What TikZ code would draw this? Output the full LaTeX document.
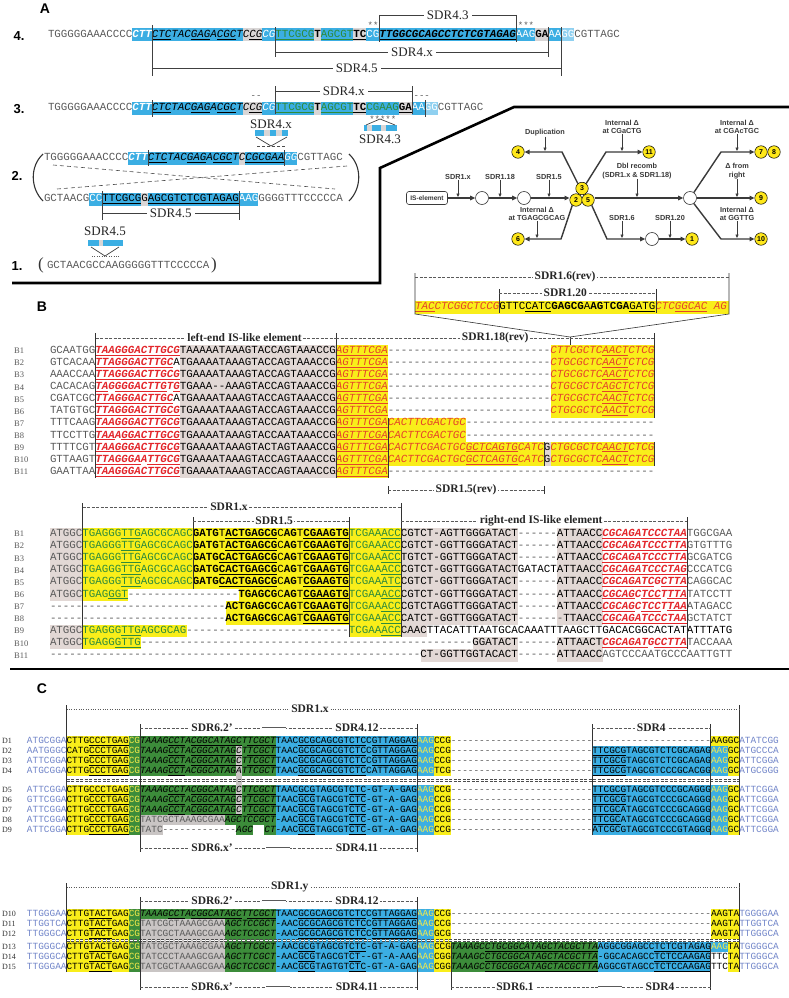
\documentclass[tikz,border=0pt]{standalone}
\usepackage{fontspec}
\setmainfont{Liberation Serif}
\setsansfont{Liberation Sans}
\setmonofont{Liberation Mono}
\usepackage{tikz}
\usetikzlibrary{positioning,calc,arrows.meta}
\definecolor{sqblue}{HTML}{3BAEE3}
\definecolor{sqlblue}{HTML}{8FD0F0}
\definecolor{sqgrey}{HTML}{D9D6D6}
\definecolor{sqyel}{HTML}{F9EE1A}
\definecolor{sqpink}{HTML}{E2D8D5}
\definecolor{sqdg}{HTML}{3C8C3A}
\definecolor{sqlg}{HTML}{C9C5C4}
\definecolor{txgreen}{HTML}{2E8B3A}
\definecolor{txred}{HTML}{E3262B}
\definecolor{txorg}{HTML}{E5442A}
\definecolor{txgrey}{HTML}{5A5A5A}
\definecolor{txflank}{HTML}{7185C9}
\definecolor{txyel}{HTML}{F4E94A}
\definecolor{flowc}{HTML}{3A3A3A}
\definecolor{ycirc}{HTML}{FFE81A}
\newcommand{\sqf}{\ttfamily\fontsize{10.83}{12}\selectfont}
\newcount\dshn
\newcommand{\dsh}[1]{\dshn=#1\relax\loop\ifnum\dshn>0 -{}\advance\dshn by -1 \repeat}
\newcommand{\un}[1]{\underline{#1}}
% sequence rows: start point, then segments chained to the right
\newcommand{\sqat}[2]{\node[sq] (cur) at (#1,#2) {};}
\newcommand{\sqs}[2]{\node[sq,#1] (cur) at (cur.east) {#2};}
\newcommand{\urow}[3]{\node[rowlab] (u#1) at (14,#2) {#1}; \sqat{50}{#2} #3}
\newcommand{\lrow}[3]{\node[rowlab] (w#1) at (14,#2) {#1}; \sqat{50}{#2} #3}
\newcommand{\drow}[3]{\node[rowlabc] (#1) at (2,#2) {#1}; \sqat{27}{#2} #3}
% column blocks (B: 6.5 per base from x=50, C: 5.65 per base from x=27)
\newcommand{\bk}[5]{\fill[#5] ({50+6.5*#1},#3) rectangle ({50+6.5*#2},#4);}
\newcommand{\cb}[5]{\fill[#5] ({27+5.65*#1},#3) rectangle ({27+5.65*#2},#4);}
\newcommand{\agt}{\sqs{co,fi}{\un{AGTTTCGA}}}
\newcommand{\mida}{\sqs{ck,fb}{GATG}\sqs{ck}{T}\sqs{ck,fb}{\un{ACTGAGCG}}\sqs{ck}{C}\sqs{ck,fb}{AG}\sqs{ck}{T}\sqs{ck,fb}{\un{CGAAGTG}}}
\newcommand{\midb}{\sqs{ck,fb}{GATG\un{CACTGAGCG}}\sqs{ck}{C}\sqs{ck,fb}{AG}\sqs{ck}{T}\sqs{ck,fb}{\un{CGAAGTG}}}
\newcommand{\midt}{\sqs{ck}{C}\sqs{ck,fb}{AG}\sqs{ck}{T}\sqs{ck,fb}{\un{CGAAGTG}}}
\newcommand{\dleft}[5]{\sqs{cb}{#1}\sqs{ck}{#2}\sqs{cy}{CG}\sqs{ck,fi}{#3}\sqs{ck}{#4}\sqs{cy}{AAG}\sqs{ck}{#5}}
\newcommand{\dright}[3]{\sqs{cp}{\dsh{25}}\sqs{ck}{#1}\sqs{cy}{#2}\sqs{ck}{GC}\sqs{cb}{#3}}
\newcommand{\gstd}{TAAAG\un{CCT}A\un{CGGCATAGC}T\un{TCGCT}}
\tikzset{
  sq/.style={font=\sqf, anchor=west, inner xsep=0pt, inner ysep=2.4pt, outer sep=0pt,
    minimum width=0pt, text height=6.4pt, text depth=1.8pt, text=txgrey},
  bb/.style={fill=sqblue}, bl/.style={fill=sqlblue}, bgr/.style={fill=sqgrey},
  cw/.style={text=white}, ck/.style={text=black}, cg/.style={text=txgreen},
  cr/.style={text=txred}, co/.style={text=txorg}, cp/.style={text=txgrey},
  cb/.style={text=txflank}, cy/.style={text=txyel},
  fi/.style={font=\sqf\itshape}, fb/.style={font=\sqf\bfseries}, fbi/.style={font=\sqf\bfseries\itshape},
  rowlab/.style={anchor=west, inner sep=0pt, text=txgrey, font=\fontsize{8.5}{9}\selectfont},
  rowlabc/.style={anchor=west, inner sep=0pt, text=black!80, font=\fontsize{8}{8}\selectfont},
  plab/.style={font=\sffamily\bfseries\fontsize{14}{14}\selectfont, inner sep=0pt},
  rnum/.style={font=\sffamily\bfseries\fontsize{13}{13}\selectfont, inner sep=0pt},
  brk/.style={draw=black!75, line width=0.7pt},
  alab/.style={font=\fontsize{13}{13}\selectfont, fill=white, inner xsep=3pt, inner ysep=0pt, text=black!85},
  mk/.style={font=\ttfamily\fontsize{9}{9}\selectfont, text=txgrey, inner sep=0pt},
  paren/.style={draw=black!80, line width=1.1pt},
  xdash/.style={draw=black!70, line width=0.6pt, dash pattern=on 4pt off 3pt},
  vl/.style={draw=black!80, line width=0.6pt},
  lbline/.style={draw=txgrey, line width=0.5pt, dash pattern=on 3pt off 1.5pt},
  dotl/.style={draw=txgrey, line width=0.6pt, dash pattern=on 0.8pt off 1.6pt},
  blab/.style={font=\bfseries\fontsize{11.5}{12}\selectfont, fill=white, inner xsep=1.5pt, inner ysep=0pt, text=black!85},
  dbl/.style={draw=txgrey, double=white, double distance=1pt, line width=0.4pt},
  ddv/.style={draw=black!70, double=white, double distance=1.2pt, line width=0.5pt, dash pattern=on 3pt off 1.5pt},
  flw/.style={draw=flowc, line width=1.4pt, -{Triangle[length=5pt,width=4.5pt]}},
  sarr/.style={draw=flowc, line width=0.7pt, -{Triangle[length=3.5pt,width=3pt]}, shorten >=1pt},
  ycirc/.style={circle, draw=black, line width=0.5pt, fill=ycirc, minimum size=12.5pt, inner sep=0pt,
    font=\sffamily\bfseries\fontsize{7}{7}\selectfont},
  ecirc/.style={circle, draw=flowc, line width=0.6pt, fill=white, minimum size=13pt, inner sep=0pt},
  isbox/.style={draw=flowc, rounded corners=2.5pt, line width=0.6pt, minimum width=41pt, minimum height=13pt,
    inner sep=1pt, font=\sffamily\bfseries\fontsize{6.6}{7}\selectfont, text=flowc},
  fltx/.style={font=\sffamily\bfseries\fontsize{7.3}{8.6}\selectfont, text=flowc, align=center, inner sep=0pt},
}
\begin{document}
\begin{tikzpicture}[x=1pt, y=-1pt]
\useasboundingbox (0,0) rectangle (789,998);
\fill[white] (0,0) rectangle (789,998);

%% ---------------- panel A ----------------
\node[plab] (pA) at (45,9) {A};
\node[rnum] (n4) at (19,36) {4.};
\node[rnum] (n3) at (19,109) {3.};
\node[rnum] (n2) at (17,176) {2.};
\node[rnum] (n1) at (17,266) {1.};

% row 4
\sqat{48}{35}
\sqs{}{TGGGGGAAACCCC}\sqs{bb,cw,fbi}{CTT}\sqs{bb,ck,fi}{\un{CTC}TAC\un{GAG}A\un{CGC}T}
\sqs{bgr,ck,fi}{C\un{CG}}\sqs{bb,cw,fi}{CG}\sqs{bb,cg}{\un{TTCGCG}}\sqs{bgr,ck,fb}{T}
\sqs{bb,cg}{\un{AGCGT}}\sqs{bgr,ck,fb}{\un{TC}}\sqs{bb,cw}{CG}
\sqs{bb,ck,fbi}{\un{TTGGCGCAGCC}\un{TCTCGTAGAG}}\sqs{bb,cw}{AAG}\sqs{bgr,ck,fb}{GA}
\sqs{bb,cw}{AA}\sqs{bl,cw}{GG}\sqs{}{CGTTAGC}
\node[mk] (st4a) at (373,25) {**};
\node[mk] (st4b) at (526,25) {***};
\draw[brk] (152,25) -- (152,76);
\draw[brk] (275.5,27) -- (275.5,57);
\draw[brk] (379.5,15) -- (379.5,42);
\draw[brk] (516,15) -- (516,42);
\draw[brk] (548.5,27) -- (548.5,57);
\draw[brk] (561.5,27) -- (561.5,76);
\draw[brk] (379.5,15) -- (516,15) node[alab, midway] (l43a) {SDR4.3};
\draw[brk] (275.5,52) -- (548.5,52) node[alab, midway] (l4xa) {SDR4.x};
\draw[brk] (152,68) -- (561.5,68) node[alab, midway] (l45a) {SDR4.5};

% row 3
\sqat{48}{108}
\sqs{}{TGGGGGAAACCCC}\sqs{bb,cw,fbi}{CTT}\sqs{bb,ck,fi}{\un{CTC}TAC\un{GAG}A\un{CGC}T}
\sqs{bgr,ck,fi}{C\un{CG}}\sqs{bb,cw,fi}{CG}\sqs{bb,cg}{\un{TTCGCG}}\sqs{bgr,ck,fb}{T}
\sqs{bb,cg}{\un{AGCGT}}\sqs{bgr,ck,fb}{\un{TC}}\sqs{bb,cg}{CGAAG}\sqs{bgr,ck,fb}{\un{GA}}
\sqs{bb,cw}{AA}\sqs{bl,cw}{GG}\sqs{}{CGTTAGC}
\draw[brk] (152,100) -- (152,117);
\draw[brk] (425,100) -- (425,117);
\draw[brk] (275.5,86) -- (275.5,114);
\draw[brk] (412,86) -- (412,114);
\draw[brk] (275.5,91) -- (412,91) node[alab, midway] (l4xb) {SDR4.x};
\node[mk] (ds3a) at (256,97) {-{}-};
\node[mk] (ds3b) at (421.75,97) {-{}-{}-};
\node[mk] (st3) at (382.75,119) {*****};

% inserted SDR4.x
\node[alab] (i4x) at (271,124) {SDR4.x};
\fill[sqblue] (255,130) rectangle (288,136);
\fill[sqgrey] (264,130) rectangle (270,136);
\fill[sqgrey] (276,130) rectangle (282,136);
\draw[brk] (256,137) -- (271,146) -- (287,137);
\draw[xdash, dash pattern=on 3pt off 2pt] (257,146) -- (286,146);
% inserted SDR4.3
\fill[sqblue] (364,125) rectangle (397,131);
\fill[sqgrey] (367,125) rectangle (372,131);
\fill[sqgrey] (381,125) rectangle (386,131);
\draw[brk] (366,125) -- (380,119) -- (395,125);
\node[alab, fill=none] (i43) at (380,139) {SDR4.3};

% row 2
\sqat{44}{158}
\sqs{}{TGGGGGAAACCCC}\sqs{bb,cw,fbi}{CTT}\sqs{bb,ck,fi}{\un{CTC}TAC\un{GAG}A\un{CGC}T}
\sqs{bgr,ck,fi}{C}\sqs{bb,ck,fi}{\un{CGCGAA}}\sqs{bb,cw,fi}{GG}\sqs{}{CGTTAGC}
\draw[brk] (148,150) -- (148,166);
\draw[brk] (284.5,150) -- (284.5,166);
\sqat{44}{199}
\sqs{}{GCTAACG}\sqs{bb,cw}{CC}\sqs{bb,ck}{\un{TTCGCG}}\sqs{bgr,ck}{G}
\sqs{bb,ck}{\un{AGCGTCTCGTAGAG}}\sqs{bb,cw}{AAG}\sqs{}{GGGGTTTCCCCCA}
\draw[brk] (102.5,191) -- (102.5,220);
\draw[brk] (239,191) -- (239,220);
\draw[brk] (102.5,213) -- (239,213) node[alab, midway] (l45b) {SDR4.5};
\draw[paren] (43,154) .. controls (30,166) and (30,188) .. (43,201);
\draw[paren] (349,154) .. controls (362,166) and (362,188) .. (349,201);
\draw[xdash] (53,165) -- (335,189);
\draw[xdash] (57,189) -- (347,166);

% inserted SDR4.5 and row 1
\node[alab] (i45) at (105,231) {SDR4.5};
\fill[sqblue] (88,240) rectangle (123,246);
\fill[sqgrey] (99,240) rectangle (103,246);
\draw[brk] (91,247) -- (105,256) -- (119,247);
\draw[dotl, line width=0.8pt] (92,256) -- (120,256);
\node[font=\fontsize{17}{17}\selectfont, inner sep=0pt, text=black!80] (lp1) at (41,265) {(};
\sqat{47}{266}\sqs{}{GCTAACGCCAAGGGGGTTTCCCCCA}
\node[font=\fontsize{17}{17}\selectfont, inner sep=0pt, text=black!80] (rp1) at (214,265) {)};

\draw[line width=2.6pt] (12,283) -- (380,283) -- (380,168) -- (514,107) -- (789,107);

% flow of rearrangements
\node[isbox] (ise) at (427,198) {IS-element};
\node[ecirc] (e1) at (482,198) {};
\node[ecirc] (e2) at (524,198) {};
\node[ycirc] (y2) at (576,200) {2};
\node[ycirc] (y5) at (588,200) {5};
\node[ycirc] (y3) at (582,188.5) {3};
\node[ecirc] (e3) at (690,198) {};
\node[ycirc] (y9) at (761,198) {9};
\node[ycirc] (y4) at (518,152) {4};
\node[ycirc] (y11) at (649,152) {11};
\node[ycirc] (y7) at (761,152) {7};
\node[ycirc] (y8) at (774,152) {8};
\node[ycirc] (y6) at (518,239) {6};
\node[ecirc] (e4) at (652,239) {};
\node[ycirc] (y1) at (692,239) {1};
\node[ycirc] (y10) at (761,239) {10};
\coordinate (kul) at (562,152);
\coordinate (kur) at (606,152);
\coordinate (kdl) at (561,239);
\coordinate (kdr) at (607,239);
\coordinate (kur2) at (721,152);
\coordinate (kdr2) at (721,239);
\draw[flw] (ise) -- (e1);
\draw[flw] (e1) -- (e2);
\draw[flw] (e2) -- (e2 -| y2.west);
\draw[flw] (y5.east |- e3) -- (e3);
\draw[flw] (e3) -- (y9);
\draw[flw] (e4) -- (y1);
\draw[flw] (y3.130) -- (kul) -- (y4);
\draw[flw] (y3.50) -- (kur) -- (y11);
\draw[flw] (y2.235) -- (kdl) -- (y6);
\draw[flw] (y5.305) -- (kdr) -- (e4);
\draw[flw] (e3.55) -- (kur2) -- (y7);
\draw[flw] (e3.305) -- (kdr2) -- (y10);
\node[fltx] (lx) at (458,177) {SDR1.x};
\node[fltx] (l18) at (500,177) {SDR1.18};
\node[fltx] (l15) at (549,177) {SDR1.5};
\node[fltx] (ldb) at (637,171) {Dbl recomb\\(SDR1.x \& SDR1.18)};
\node[fltx] (ldup) at (545,133) {Duplication};
\node[fltx] (lcg) at (622,127) {Internal Δ\\at CGaCTG};
\node[fltx] (lcgc) at (737,127) {Internal Δ\\at CGAcTGC};
\node[fltx] (lfr) at (737,171) {Δ from\\right};
\node[fltx] (ltg) at (537,214) {Internal Δ\\at TGAGCGCAG};
\node[fltx] (l16) at (622,218) {SDR1.6};
\node[fltx] (l120) at (670,218) {SDR1.20};
\node[fltx] (lgg) at (737,214) {Internal Δ\\at GGTTG};
\draw[sarr] (lx.south) -- (lx.south |- ise.east);
\draw[sarr] (l18.south) -- (l18.south |- e1.east);
\draw[sarr] (l15.south) -- (l15.south |- e2.east);
\draw[sarr] (ldb.south) -- (ldb.south |- e3.west);
\draw[sarr] (lfr.south) -- (lfr.south |- e3.east);
\draw[sarr] (ldup.south) -- (ldup.south |- y4.east);
\draw[sarr] (lcg.south) -- (lcg.south |- y11.west);
\draw[sarr] (lcgc.south) -- (lcgc.south |- y7.west);
\draw[sarr] (ltg.south) -- (ltg.south |- y6.east);
\draw[sarr] (l16.south) -- (l16.south |- e4.west);
\draw[sarr] (l120.south) -- (l120.south |- y1.west);
\draw[sarr] (lgg.south) -- (lgg.south |- y10.west);

%% ---------------- panel B ----------------
\node[plab] (pB) at (42,307) {B};
% SDR1.6(rev) zoom box
\fill[sqyel] (415,300.5) rectangle (729,313.5);
\sqat{415}{307}
\sqs{co,fi}{\un{TAC}CTCGGCTCCG}\sqs{ck}{GTTC\un{CATC}}\sqs{ck,fb}{GAGCG}\sqs{ck}{A}\sqs{ck,fb}{AG}
\sqs{ck}{T}\sqs{ck,fb}{CGA}\sqs{ck}{\un{GATG}}\sqs{co,fi}{CTC\un{GGCAC}\ AG}
\draw[vl] (415,273) -- (415,314) -- (570,337) -- (729,314) -- (729,273);
\draw[vl] (570,337) -- (570,347);
\draw[vl] (499,289) -- (499,313);
\draw[vl] (656,289) -- (656,313);
\draw[lbline] (415,277) -- (729,277) node[blab, pos=0.478] (r16) {SDR1.6(rev)};
\draw[lbline] (499,293) -- (656,293) node[blab, pos=0.422] (r120) {SDR1.20};

% upper alignment
\bk{20}{44}{345}{478}{sqpink}
\bk{44}{52}{345}{478}{sqyel}
\bk{77}{93}{345}{417.5}{sqyel}
\bk{52}{64}{417.5}{441.8}{sqyel}
\bk{52}{76}{441.8}{465.9}{sqyel}
\bk{76}{77}{441.8}{465.9}{sqpink}
\bk{77}{93}{441.8}{465.9}{sqyel}
\urow{B1}{351}{\sqs{cp}{GCAATGG}\sqs{cr,fbi}{\un{TAAGGGA}\un{CTTGCG}}\sqs{ck}{TAAAAATAAAGTACCAGTAAACCG}\agt\sqs{cp}{\dsh{25}}\sqs{co,fi}{CTTCGCTC\un{AACT}CTCG}}
\urow{B2}{363.1}{\sqs{cp}{GTCACAA}\sqs{cr,fbi}{\un{TTAGGGA}\un{CTTGC}}\sqs{ck}{ATGAAAATAAAGTACCAGTAAACCG}\agt\sqs{cp}{\dsh{25}}\sqs{co,fi}{CTGCGCTC\un{AACT}CTCG}}
\urow{B3}{375.2}{\sqs{cp}{AAACCAA}\sqs{cr,fbi}{\un{TTAGGGA}\un{CTTGCG}}\sqs{ck}{TGAAAATAAAGTACCAGTAAACCG}\agt\sqs{cp}{\dsh{25}}\sqs{co,fi}{CTGCGCTC\un{AACT}CTCG}}
\urow{B4}{387.3}{\sqs{cp}{CACACAG}\sqs{cr,fbi}{\un{TA}G\un{GGGACTTG}T\un{G}}\sqs{ck}{TGAAA\dsh{2}AAAGTACCAGTAAACCG}\agt\sqs{cp}{\dsh{25}}\sqs{co,fi}{CTGCGCTC\un{AGCT}CTCG}}
\urow{B5}{399.4}{\sqs{cp}{CGATCGC}\sqs{cr,fbi}{\un{TTAGGGA}\un{CTTGC}}\sqs{ck}{ATGAAAATAAAGTACCAGTAAACCG}\agt\sqs{cp}{\dsh{25}}\sqs{co,fi}{CTGCGCTC\un{AACT}CTCG}}
\urow{B6}{411.5}{\sqs{cp}{TATGTGC}\sqs{cr,fbi}{\un{TTAGGGA}\un{CTTGCG}}\sqs{ck}{TGAAAATAAAGTACCAGTAAACCG}\agt\sqs{cp}{\dsh{25}}\sqs{co,fi}{CTGCGCTC\un{AACT}CTCG}}
\urow{B7}{423.6}{\sqs{cp}{TTTCAAG}\sqs{cr,fbi}{\un{TAAGGGA}\un{CTTGCG}}\sqs{ck}{TGAAAATAAAGTACCAGTAAACCG}\agt\sqs{co,fi}{CACTTCGACTGC}\sqs{cp}{\dsh{29}}}
\urow{B8}{435.7}{\sqs{cp}{TTCCTTG}\sqs{cr,fbi}{\un{TAA}A\un{GGACTTGCG}}\sqs{ck}{TGAAAATAAAGTACCAATAAACCG}\agt\sqs{co,fi}{CACTTCGACTGC}\sqs{cp}{\dsh{29}}}
\urow{B9}{447.8}{\sqs{cp}{TTTTCGT}\sqs{cr,fbi}{\un{TAAGGGA}\un{CTTGCG}}\sqs{ck}{TGAAAATAAAGTACTAGTAAACCG}\agt\sqs{co,fi}{CACTTCGACTGC\un{GCTCAGTG}CATC}\sqs{ck}{G}\sqs{co,fi}{CTGCGCTC\un{AACT}CTCG}}
\urow{B10}{459.9}{\sqs{cp}{GTTAAGT}\sqs{cr,fbi}{\un{TTAGGGA}A\un{TTGCG}}\sqs{ck}{TGAAAATAAAGTACCAGTAAACCG}\agt\sqs{co,fi}{CACTTCGACTGC\un{GCTCAGTG}CATC}\sqs{ck}{G}\sqs{co,fi}{CTGCGCTC\un{AACT}CTCG}}
\urow{B11}{472}{\sqs{cp}{GAATTAA}\sqs{cr,fbi}{\un{TAAGGGA}\un{CTTGCG}}\sqs{ck}{TGAAAATAAAGTACCAGTAAACCG}\agt\sqs{cp}{\dsh{41}}}
\draw[vl] (95.5,333) -- (95.5,478);
\draw[vl] (336,333) -- (336,478);
\draw[vl] (654.5,333) -- (654.5,417.5);
\draw[vl] (654.5,441.8) -- (654.5,465.9);
\draw[vl] (388,417.5) -- (388,478);
\draw[vl] (544,441.8) -- (544,465.9);
\draw[lbline] (95.5,338) -- (336,338) node[blab, pos=0.62] (rle) {left-end IS-like element};
\draw[lbline] (336,338) -- (654.5,338) node[blab, pos=0.5] (r118) {SDR1.18(rev)};
\draw[vl] (388,486) -- (388,494);
\draw[vl] (544,486) -- (544,494);
\draw[lbline] (388,490) -- (544,490) node[blab, pos=0.5] (r15r) {SDR1.5(rev)};

% lower alignment
\bk{0}{5}{528}{600.8}{sqpink}
\bk{0}{5}{625.1}{649.4}{sqpink}
\bk{5}{22}{528}{588.7}{sqyel}
\bk{5}{12}{588.7}{600.8}{sqyel}
\bk{5}{21}{625.1}{637.3}{sqyel}
\bk{5}{14}{637.3}{649.4}{sqyel}
\bk{22}{46}{528}{588.7}{sqyel}
\bk{29}{46}{588.7}{600.8}{sqyel}
\bk{27}{46}{600.8}{625.1}{sqyel}
\bk{46}{54}{528}{637.3}{sqyel}
\bk{54}{72}{528}{625.1}{sqpink}
\bk{54}{58}{625.1}{637.3}{sqpink}
\bk{65}{72}{637.3}{649.4}{sqpink}
\bk{57}{72}{649.4}{661.6}{sqpink}
\bk{78}{85}{528}{625.1}{sqpink}
\bk{78}{85}{637.3}{661.6}{sqpink}
\lrow{B1}{534}{\sqs{cp}{ATGGC}\sqs{cg}{TGAGGG\un{TTG}AGCGCAGC}\mida\sqs{cg}{TCGAA\un{ACC}}\sqs{ck}{CGTCT-AGTTGGGATACT}\sqs{cp}{\dsh{6}}\sqs{ck}{ATTAACC}\sqs{cr,fbi}{\un{CGCAGATCCCTAA}}\sqs{cp}{TGGCGAA}}
\lrow{B2}{546.15}{\sqs{cp}{ATGGC}\sqs{cg}{TGAGGG\un{TTG}AGCGCAGC}\mida\sqs{cg}{TCGAA\un{ACC}}\sqs{ck}{CGTCT-GGTTGGGATACT}\sqs{cp}{\dsh{6}}\sqs{ck}{ATTAACC}\sqs{cr,fbi}{\un{CGCAGATCCCTTA}}\sqs{cp}{GTGTTTG}}
\lrow{B3}{558.3}{\sqs{cp}{ATGGC}\sqs{cg}{TGAGGG\un{TTG}AGCGCAGC}\midb\sqs{cg}{TCGAA\un{ACC}}\sqs{ck}{TGTCT-GGTTGGGATACT}\sqs{cp}{\dsh{6}}\sqs{ck}{ATTAACC}\sqs{cr,fbi}{\un{CGCAGATCCCTTA}}\sqs{cp}{GCGATCG}}
\lrow{B4}{570.45}{\sqs{cp}{ATGGC}\sqs{cg}{TGAGGG\un{TTG}AGCGCAGC}\midb\sqs{cg}{TCGAA\un{ACC}}\sqs{ck}{CGTCT-GGTTGGGATACT}\sqs{ck}{GATACT}\sqs{ck}{ATTAACC}\sqs{cr,fbi}{\un{CGCAGATCCCTAG}}\sqs{cp}{CCCATCG}}
\lrow{B5}{582.6}{\sqs{cp}{ATGGC}\sqs{cg}{TGAGGG\un{TTG}AGCGCAGC}\midb\sqs{cg}{TCGAA\un{ATC}}\sqs{ck}{CGTCT-GGTTGGGATACT}\sqs{cp}{\dsh{6}}\sqs{ck}{ATTAACC}\sqs{cr,fbi}{\un{CGCAGATC}G\un{CTTA}}\sqs{cp}{CAGGCAC}}
\lrow{B6}{594.75}{\sqs{cp}{ATGGC}\sqs{cg}{TGAG\un{GGT}}\sqs{cp}{\dsh{17}}\sqs{ck,fb}{TGAGCG}\midt\sqs{cg}{TCGAA\un{ACC}}\sqs{ck}{CGTCT-GGTTGGGATACT}\sqs{cp}{\dsh{6}}\sqs{ck}{ATTAACC}\sqs{cr,fbi}{\un{CGCAG}C\un{TCC}T\un{TTA}}\sqs{cp}{TATCCTT}}
\lrow{B7}{606.9}{\sqs{cp}{\dsh{27}}\sqs{ck,fb}{ACTGAGCG}\midt\sqs{cg}{TCGAA\un{ACC}}\sqs{ck}{CGTCTAGGTTGGGATACT}\sqs{cp}{\dsh{6}}\sqs{ck}{ATTAACC}\sqs{cr,fbi}{\un{CGCAG}C\un{TCC}T\un{TAA}}\sqs{cp}{ATAGACC}}
\lrow{B8}{619.05}{\sqs{cp}{\dsh{27}}\sqs{ck,fb}{ACTGAGCG}\midt\sqs{cg}{TCGAA\un{ACC}}\sqs{ck}{CATCT-GGTTGGGATACT}\sqs{cp}{\dsh{7}}\sqs{ck}{TTAACC}\sqs{cr,fbi}{\un{CGCAGATCCCTAA}}\sqs{cp}{GCTATCT}}
\lrow{B9}{631.2}{\sqs{cp}{ATGGC}\sqs{cg}{TGAGGG\un{TTG}AGCGCAG}\sqs{cp}{\dsh{25}}\sqs{cg}{TCGAA\un{ACC}}\sqs{ck}{CAACTTACATTTAATGCACAAATTTAAGCTTGACACGGCACTATATTTATG}}
\lrow{B10}{643.35}{\sqs{cp}{ATGGC}\sqs{cg}{TGAGG\un{GTTG}}\sqs{cp}{\dsh{51}}\sqs{ck}{GGATACT}\sqs{cp}{\dsh{6}}\sqs{ck}{ATTAACT}\sqs{cr,fbi}{\un{CGCAGAT}G\un{CCTTA}}\sqs{cp}{TACCAAA}}
\lrow{B11}{655.5}{\sqs{cp}{\dsh{57}}\sqs{ck}{CT-GGTTGGTACACT}\sqs{cp}{\dsh{6}}\sqs{ck}{ATTAACC}\sqs{cp}{AGTCCCAATGCCCAATTGTT}}
\draw[vl] (82.5,503) -- (82.5,649.4);
\draw[vl] (193,517) -- (193,588.7);
\draw[vl] (349,517) -- (349,637.3);
\draw[vl] (401,503) -- (401,637.3);
\draw[vl] (687,517) -- (687,649.4);
\draw[lbline] (82.5,507) -- (401,507) node[blab, pos=0.46] (r1x) {SDR1.x};
\draw[lbline] (193,521) -- (349,521) node[blab, pos=0.52] (r15) {SDR1.5};
\draw[lbline] (401,521) -- (687,521) node[blab, pos=0.49] (rre) {right-end IS-like element};

\draw[line width=2.6pt] (10,669) -- (789,669);

%% ---------------- panel C ----------------
\renewcommand{\sqf}{\ttfamily\fontsize{9.42}{10}\selectfont}
\node[plab] (pC) at (42,689) {C};
% upper set
\cb{7}{18}{736}{776}{sqyel}\cb{7}{18}{785}{835}{sqyel}
\cb{18}{20}{736}{776}{sqdg}\cb{18}{20}{785}{835}{sqdg}
\cb{20}{44}{736}{776}{sqdg}\cb{20}{44}{785}{815}{sqdg}
\cb{20}{35}{815}{825}{sqlg}\cb{35}{44}{815}{825}{sqdg}
\cb{20}{24}{825}{835}{sqlg}\cb{37}{40}{825}{835}{sqdg}\cb{42}{44}{825}{835}{sqdg}
\cb{37}{38}{746}{815}{sqlg}
\cb{44}{72}{736}{776}{sqblue}\cb{44}{72}{785}{835}{sqblue}
\cb{72}{75}{736}{776}{sqyel}\cb{72}{75}{785}{835}{sqyel}
\cb{100}{124}{746}{776}{sqblue}\cb{100}{124}{785}{835}{sqblue}
\cb{121}{126}{736}{746}{sqyel}
\cb{124}{126}{746}{776}{sqyel}\cb{124}{126}{785}{835}{sqyel}
\drow{D1}{741}{\dleft{ATGCGGA}{CTTG\un{CC}\un{CTGAG}}{\gstd}{TAAC\un{GCGCAGCGTCTC}C\un{GTTAGGAG}}{CCG}\sqs{cp}{\dsh{46}}\sqs{ck}{AAGGC}\sqs{cb}{ATATCGG}}
\drow{D2}{751}{\dleft{AATGGGC}{CATG\un{CC}\un{CTGAG}}{\gstd}{TAAC\un{GCGCAGCGTCTC}C\un{GTTAGGAG}}{CCG}\dright{\un{TTCGCG}TAGCGTCTCGCAGAG}{AAG}{ATGCCCA}}
\drow{D3}{761}{\dleft{ATTCGGA}{CTTG\un{CC}\un{CTGAG}}{\gstd}{TAAC\un{GCGCAGCGTCTC}C\un{GTTAGGAG}}{CCG}\dright{\un{TTCGCG}TAGCGTCTCGCAGAG}{AAG}{ATTCGGA}}
\drow{D4}{771}{\dleft{ATGCGGA}{CTTG\un{CC}\un{CTGAG}}{TAAAG\un{CCT}ACGGCATAGATTCGCT}{TAAC\un{GCGCAGCGTCTC}CATTAGGAG}{TCG}\dright{\un{TTCGCG}TAGCGTCCCGCACGG}{AAG}{ATGCGGG}}
\drow{D5}{790}{\dleft{ATTCGGA}{CTTG\un{CC}\un{CTGAG}}{\gstd}{TAAC\un{GCG}TAGCGT\un{CTC}-GT-A-GAG}{CCG}\dright{\un{TTCGCG}TAGCGTCCCGCAGGG}{AAG}{ATTCGGA}}
\drow{D6}{800}{\dleft{GTTCGGA}{CTTG\un{CC}\un{CTGAG}}{\gstd}{TAAC\un{GCG}TAGCGT\un{CTC}-GT-A-GAG}{CCG}\dright{\un{TTCGCG}TAGCGTCCCGCAGGG}{AAG}{ATTCGGA}}
\drow{D7}{810}{\dleft{ATTCGGA}{CTTG\un{CC}\un{CTGAG}}{\gstd}{TAAC\un{GCG}TAGCGT\un{CTC}-GT-A-GAG}{CCG}\dright{\un{TTCGC}ATAGCGTCCCGCAGGG}{AAG}{ATTCGGA}}
\drow{D8}{820}{\dleft{ATTCGGA}{CTTG\un{CC}\un{CTGAG}}{{\upshape\color{txgrey}TATCGCTAAAGCGAA}AGCTCCGCT}{-AAC\un{GCG}TAGCGT\un{CTC}-GT-A-GAG}{CCG}\dright{\un{TTCGC}ATAGCGTCCCGCAGGG}{AAG}{ATTCGGA}}
\drow{D9}{830}{\dleft{ATTCGGA}{CTTG\un{CC}\un{CTGAG}}{{\upshape\color{txgrey}TATC\dsh{13}}AGC\phantom{CT}CT}{-AAC\un{GCG}TAGCGT\un{CTC}-GT-A-GAG}{CCG}\dright{ATCGCGTAGCGTCCCGTAGGG}{AAG}{ATTCGGA}}
\draw[ddv] (66.5,780.5) -- (739,780.5);
\draw[vl] (66.5,705) -- (66.5,835);
\draw[vl] (739,705) -- (739,835);
\draw[vl] (140,724) -- (140,852);
\draw[vl] (417,724) -- (417,852);
\draw[vl] (592,724) -- (592,835);
\draw[vl] (710.6,724) -- (710.6,835);
\draw[dotl] (66.5,709) -- (739,709) node[blab, pos=0.362] (c1x) {SDR1.x};
\draw[lbline] (140,728) -- (417,728);
\draw[dbl] (262,728) -- (286,728);
\node[blab] (c62a) at (212,728) {SDR6.2'};
\node[blab] (c412a) at (357,728) {SDR4.12};
\draw[lbline] (592,728) -- (710.6,728) node[blab, pos=0.5] (c4a) {SDR4};
\draw[lbline] (140,848) -- (417,848);
\draw[dbl] (266,848) -- (290,848);
\node[blab] (c6xa) at (212,848) {SDR6.x'};
\node[blab] (c411a) at (357,848) {SDR4.11};

% lower set
\cb{7}{18}{909}{972}{sqyel}
\cb{18}{20}{909}{972}{sqdg}
\cb{20}{44}{909}{919}{sqdg}
\cb{20}{35}{919}{972}{sqlg}\cb{35}{44}{919}{972}{sqdg}
\cb{44}{72}{909}{972}{sqblue}
\cb{72}{75}{909}{972}{sqyel}
\cb{121}{126}{909}{939}{sqyel}
\cb{75}{101}{942}{972}{sqdg}
\cb{101}{121}{942}{972}{sqblue}
\cb{121}{124}{942}{952}{sqblue}
\cb{124}{126}{942}{972}{sqyel}
\drow{D10}{914}{\dleft{TTGGGAA}{CTTG\un{TACT}GAG}{\gstd}{TAAC\un{GCGCAGCGTCTC}C\un{GTTAGGAG}}{CCG}\sqs{cp}{\dsh{46}}\sqs{ck}{AAGTA}\sqs{cb}{TGGGGAA}}
\drow{D11}{924}{\dleft{TTGGTCA}{CTTG\un{TACT}GAG}{{\upshape\color{txgrey}TATCGCTAAAGCGAA}AGCTCCGCT}{-AAC\un{GCGCAGCGTCTC}C\un{GTTAGGAG}}{CCG}\sqs{cp}{\dsh{46}}\sqs{ck}{AAGTA}\sqs{cb}{TTGGTCA}}
\drow{D12}{934}{\dleft{TTGGGCA}{CTTG\un{TACT}GAG}{{\upshape\color{txgrey}TATCGCTAAAGCGAA}AGCTCCGCT}{-AAC\un{GCGCAGCGTCTC}C\un{GTTAGGAG}}{GCG}\sqs{cp}{\dsh{46}}\sqs{ck}{AAGTA}\sqs{cb}{TTGGGCA}}
\drow{D13}{947}{\dleft{TTGGGCA}{CTTG\un{TACT}GAG}{{\upshape\color{txgrey}TATCGCTAAAGCGAA}AGCTTCGCT}{-AAC\un{GCG}TAGCGT\un{CTC}-GT-A-GAG}{CCG}\sqs{ck,fi}{TAAAGC\un{CTGCGGCATAGCTACGCTTA}}\sqs{ck}{AGGCGGAGCC\un{TCTCGTAGAG}}\sqs{cy}{AAG}\sqs{ck}{TA}\sqs{cb}{TGGGGCA}}
\drow{D14}{957}{\dleft{TTGGGCA}{CTTG\un{TACT}GAG}{{\upshape\color{txgrey}TATCCCTAAAGCGAA}AGCTTCGCT}{-AAC\un{GCG}TAGCGT\un{CT}-{}-GT-A-AAG}{CGG}\sqs{ck,fi}{TAAAGC\un{CTGCGGCATAGCTACGCTTA}}\sqs{ck}{-GGCACAGCC\un{TCTCCAAGAG}}\sqs{ck}{TTC}\sqs{ck}{TA}\sqs{cb}{TTGGGCA}}
\drow{D15}{967}{\dleft{TTGGGAA}{CTTG\un{TACT}GAG}{{\upshape\color{txgrey}TATCGCTAAAGCGAA}AGCTCCGCT}{-AAC\un{GCG}TAGTGT\un{CTC}-GT-A-GAG}{CGG}\sqs{ck,fi}{TAAAGC\un{CTGCGGCATAGCTACGCTTA}}\sqs{ck}{AGGCGTAGCC\un{TCTCCAAGAG}}\sqs{ck}{TTC}\sqs{ck}{TA}\sqs{cb}{TTGGGCA}}
\draw[ddv] (66.5,940.5) -- (739,940.5);
\draw[vl] (66.5,883) -- (66.5,972);
\draw[vl] (739,883) -- (739,972);
\draw[vl] (140,897) -- (140,990);
\draw[vl] (417,897) -- (417,990);
\draw[vl] (451.4,943) -- (451.4,990);
\draw[vl] (710.6,943) -- (710.6,990);
\draw[dotl] (66.5,887) -- (739,887) node[blab, pos=0.332] (c1y) {SDR1.y};
\draw[lbline] (140,901) -- (417,901);
\draw[dbl] (262,901) -- (286,901);
\node[blab] (c62b) at (212,901) {SDR6.2'};
\node[blab] (c412b) at (357,901) {SDR4.12};
\draw[lbline] (140,987) -- (417,987);
\draw[dbl] (266,987) -- (290,987);
\node[blab] (c6xb) at (212,987) {SDR6.x'};
\node[blab] (c411b) at (357,987) {SDR4.11};
\draw[lbline] (451.4,987) -- (710.6,987);
\draw[dbl] (598,987) -- (622,987);
\node[blab] (c61) at (515,987) {SDR6.1};
\node[blab] (c4b) at (660,987) {SDR4};
\end{tikzpicture}
\end{document}
